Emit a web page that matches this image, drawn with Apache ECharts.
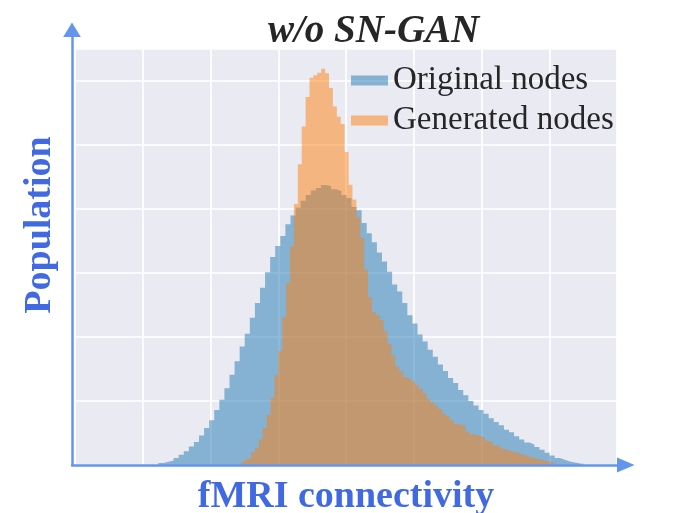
<!DOCTYPE html>
<html>
<head>
<meta charset="utf-8">
<script src="https://cdn.jsdelivr.net/npm/echarts@6/dist/echarts.min.js"></script>
<style>html,body{margin:0;padding:0;background:#fff;}#c{width:675px;height:513px;}</style>
</head>
<body>
<div id="c"></div>
<script>
// ---- data ----
const seriesNames = ['Original nodes', 'Generated nodes'];
const titleText = 'w/o SN-GAN';
const xLabel = 'fMRI connectivity';
const yLabel = 'Population';

// Original nodes histogram: first bin left edge, bin width, bin heights
const originalStart = 1.2306;
const originalBinWidth = 0.075;
const originalCounts = [
  0.031, 0.052, 0.072, 0.109, 0.161, 0.213, 0.29, 0.36, 0.46, 0.58,
  0.70, 0.86, 1.02, 1.20, 1.41, 1.62, 1.85, 2.05, 2.30, 2.53,
  2.77, 3.01, 3.25, 3.42, 3.58, 3.76, 3.90, 4.02, 4.13, 4.22,
  4.29, 4.33, 4.375, 4.36, 4.31, 4.28, 4.22, 4.17, 4.03, 3.98,
  3.78, 3.62, 3.48, 3.32, 3.18, 3.02, 2.82, 2.71, 2.53, 2.34,
  2.21, 2.04, 1.93, 1.80, 1.69, 1.57, 1.47, 1.36, 1.28, 1.17,
  1.09, 1.00, 0.93, 0.86, 0.80, 0.73, 0.67, 0.62, 0.55, 0.51,
  0.45, 0.40, 0.35, 0.32, 0.28, 0.24, 0.19, 0.15, 0.11, 0.083,
  0.056, 0.04, 0.025, 0.015
];

// Generated nodes histogram
const generatedStart = 2.4258;
const generatedBinWidth = 0.05755;
const generatedCounts = [
  0.031, 0.067, 0.11, 0.19, 0.27, 0.40, 0.58, 0.78, 1.05, 1.40,
  1.78, 2.31, 2.84, 3.42, 4.08, 4.70, 5.29, 5.75, 6.05, 6.09,
  6.13, 6.19, 6.12, 5.89, 5.60, 5.44, 5.33, 4.89, 4.38, 4.15,
  3.88, 3.55, 3.05, 2.62, 2.39, 2.34, 2.26, 2.09, 1.89, 1.71,
  1.54, 1.46, 1.37, 1.35, 1.31, 1.25, 1.19, 1.12, 1.03, 0.98,
  0.93, 0.875, 0.80, 0.76, 0.70, 0.64, 0.63, 0.61, 0.52, 0.48,
  0.47, 0.45, 0.42, 0.38, 0.35, 0.31, 0.29, 0.255, 0.23, 0.21,
  0.20, 0.18, 0.155, 0.14, 0.12, 0.105, 0.09, 0.075, 0.06, 0.045,
  0.025
];

const xMin = 0, xMax = 8, xInterval = 1;
const yMin = 0, yMax = 6.5, yInterval = 1;

// ---- build step histogram points (left edges + closing edge) ----
function histPoints(start, width, counts) {
  const pts = counts.map((v, i) => [start + i * width, v]);
  pts.push([start + counts.length * width, 0]);
  return pts;
}

const serifFont = '"Liberation Serif", "Times New Roman", serif';
const axisBlue = '#6495ED';
const labelBlue = '#4169E1';

const chart = echarts.init(document.getElementById('c'), null, {renderer: 'canvas'});
chart.setOption({
  animation: false,
  backgroundColor: '#ffffff',
  title: {
    text: titleText,
    left: 268, top: 12, padding: 0,
    textStyle: {fontFamily: serifFont, fontStyle: 'italic', fontWeight: 'bold', fontSize: 39, color: '#262626'}
  },
  legend: {
    orient: 'vertical', left: 351, top: 64, padding: 0,
    itemWidth: 37, itemHeight: 10, itemGap: 7, icon: 'rect',
    textStyle: {fontFamily: serifFont, fontSize: 33, color: '#262626', lineHeight: 33},
    itemStyle: {borderWidth: 0},
    data: [
      {name: seriesNames[0], itemStyle: {color: 'rgba(31,119,180,0.5)'}},
      {name: seriesNames[1], itemStyle: {color: 'rgba(255,127,14,0.5)'}}
    ]
  },
  grid: [
    {left: 75, right: 58, top: 49, bottom: 48, show: true, backgroundColor: '#EAEAF2', borderWidth: 0,
     containLabel: false, outerBoundsMode: 'none'},
    {left: 72, right: 58, top: 37, bottom: 48, show: false, containLabel: false, outerBoundsMode: 'none'}
  ],
  xAxis: [
    {
      type: 'value', gridIndex: 0, min: xMin, max: xMax, interval: xInterval,
      axisLine: {show: false}, axisTick: {show: false}, axisLabel: {show: false},
      splitLine: {show: true, lineStyle: {color: '#ffffff', width: 1.7}},
      name: xLabel, nameLocation: 'middle', nameGap: 13,
      nameTextStyle: {fontFamily: serifFont, fontWeight: 'bold', fontSize: 38, color: labelBlue}
    },
    {
      type: 'value', gridIndex: 1, min: 0, max: 1, z: 5,
      axisLine: {show: true, symbol: ['none', 'triangle'], symbolSize: [15, 17.6], symbolOffset: [0, 8.8],
                 lineStyle: {color: axisBlue, width: 2.5}},
      axisTick: {show: false}, axisLabel: {show: false}, splitLine: {show: false}
    }
  ],
  yAxis: [
    {
      type: 'value', gridIndex: 0, min: yMin, max: yMax, interval: yInterval,
      axisLine: {show: false}, axisTick: {show: false}, axisLabel: {show: false},
      splitLine: {show: true, lineStyle: {color: '#ffffff', width: 1.7}}
    },
    {
      type: 'value', gridIndex: 1, min: 0, max: 1, z: 5,
      axisLine: {show: true, symbol: ['none', 'triangle'], symbolSize: [17.7, 14.6], symbolOffset: [0, 7.3],
                 lineStyle: {color: axisBlue, width: 2.5}},
      axisTick: {show: false}, axisLabel: {show: false}, splitLine: {show: false}
    }
  ],
  graphic: [
    {
      type: 'text', x: 40, y: 225, rotation: Math.PI / 2,
      style: {text: yLabel, font: 'bold 38px ' + serifFont, fill: labelBlue, textAlign: 'center', textVerticalAlign: 'middle'}
    }
  ],
  series: [
    {
      name: seriesNames[0], type: 'line', xAxisIndex: 0, yAxisIndex: 0,
      step: 'end', showSymbol: false, symbol: 'none', silent: true,
      lineStyle: {width: 0, color: '#1f77b4'},
      itemStyle: {color: 'rgba(31,119,180,0.5)'},
      areaStyle: {color: '#1f77b4', opacity: 0.5},
      data: histPoints(originalStart, originalBinWidth, originalCounts)
    },
    {
      name: seriesNames[1], type: 'line', xAxisIndex: 0, yAxisIndex: 0,
      step: 'end', showSymbol: false, symbol: 'none', silent: true,
      lineStyle: {width: 0, color: '#ff7f0e'},
      itemStyle: {color: 'rgba(255,127,14,0.5)'},
      areaStyle: {color: '#ff7f0e', opacity: 0.5},
      data: histPoints(generatedStart, generatedBinWidth, generatedCounts)
    }
  ]
});
</script>
</body>
</html>
